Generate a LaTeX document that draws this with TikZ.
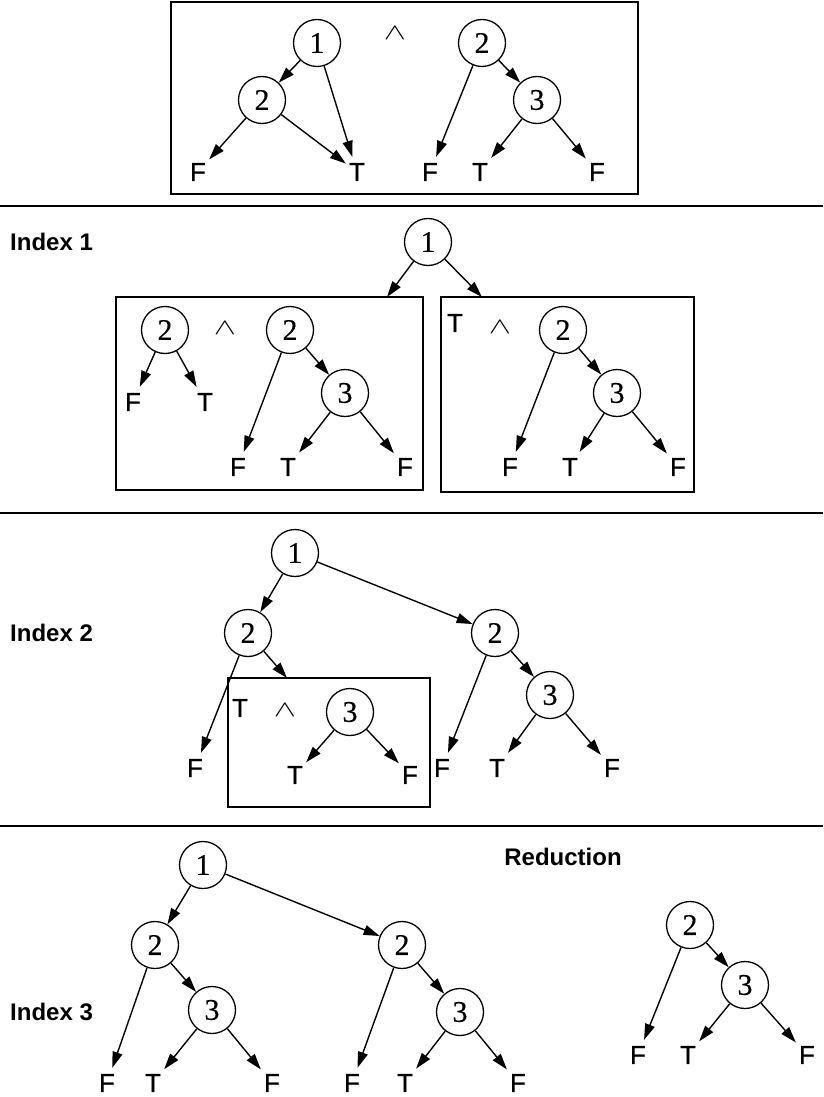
\documentclass[tikz,border=0pt]{standalone}
\usepackage{fontspec}
\setmainfont{Liberation Serif}
\setsansfont{Liberation Sans}
\newfontfamily\leaffnt[FakeBold=0.6]{Liberation Sans}
\newfontfamily\digfnt[FakeBold=0.4]{Liberation Serif}
\usetikzlibrary{arrows.meta}
\tikzset{
  bdd/.style={circle, draw, line width=1.3pt, minimum size=47pt, inner sep=0pt, font=\digfnt\fontsize{30}{32}\selectfont},
  leaf/.style={inner xsep=3pt, inner ysep=6pt, font=\leaffnt\fontsize{26}{28}\selectfont},
  txt/.style={inner sep=0pt, font=\leaffnt\fontsize{26}{28}\selectfont},
  andop/.style={inner sep=0pt, font=\fontsize{22}{24}\selectfont},
  lbl/.style={inner sep=0pt, font=\sffamily\bfseries\fontsize{24}{26}\selectfont},
  edge/.style={line width=1.4pt, -{Triangle[length=16pt,width=10pt]}},
  sep/.style={line width=1.4pt},
  thinbox/.style={draw, line width=1.4pt},
  thickbox/.style={draw, line width=2.6pt},
}
\newcommand{\andsym}{\scalebox{1.6}[1.1]{$\wedge$}}
\begin{document}
\begin{tikzpicture}[x=1pt,y=-1pt]
\useasboundingbox (0,0) rectangle (823,1097);
% ---------- Panel 1 ----------
\draw[thinbox, line width=1.7pt] (171,2) rectangle (638,194);
\node[bdd] (a1) at (317,43) {1};
\node[bdd] (a2) at (262,100) {2};
\node[leaf] (aF) at (198,172) {F};
\node[leaf] (aT) at (357,172) {T};
\node[andop] (op1) at (395,33) {\andsym};
\node[bdd] (b2) at (482,43) {2};
\node[bdd] (b3) at (537,100) {3};
\node[leaf] (bF1) at (430,172) {F};
\node[leaf] (bT) at (480,172) {T};
\node[leaf] (bF2) at (597,172) {F};
\draw[edge] (a1) -- (a2);
\draw[edge] (a1) -- (aT);
\draw[edge] (a2) -- (aF);
\draw[edge] (a2) -- (aT);
\draw[edge] (b2) -- (bF1);
\draw[edge] (b2) -- (b3);
\draw[edge] (b3) -- (bT);
\draw[edge] (b3) -- (bF2);
\coordinate (s1l) at (0,206); \coordinate (s1r) at (823,206);
\draw[sep] (s1l) -- (s1r);
% ---------- Panel 2 ----------
\node[lbl, anchor=west] (idx1) at (10,242) {Index 1};
\node[bdd] (c1) at (428,242) {1};
\draw[thickbox] (116,297) rectangle (423,490);
\draw[thickbox] (441,297) rectangle (694,492);
\coordinate (cL) at (387,297);
\coordinate (cR) at (482,297);
\draw[edge] (c1) -- (cL);
\draw[edge] (c1) -- (cR);
\node[bdd] (d2) at (165,330) {2};
\node[leaf] (dF) at (133,402) {F};
\node[leaf] (dT) at (205,402) {T};
\node[andop] (op2) at (225,328) {\andsym};
\node[bdd] (e2) at (290,330) {2};
\node[bdd] (e3) at (345,393) {3};
\node[leaf] (eF1) at (238,467) {F};
\node[leaf] (eT) at (288,467) {T};
\node[leaf] (eF2) at (405,467) {F};
\draw[edge] (d2) -- (dF);
\draw[edge] (d2) -- (dT);
\draw[edge] (e2) -- (eF1);
\draw[edge] (e2) -- (e3);
\draw[edge] (e3) -- (eT);
\draw[edge] (e3) -- (eF2);
\node[txt] (fTT) at (455,323) {T};
\node[andop] (op3) at (500,327) {\andsym};
\node[bdd] (f2) at (563,330) {2};
\node[bdd] (f3) at (617,393) {3};
\node[leaf] (fF1) at (510,467) {F};
\node[leaf] (fT) at (570,467) {T};
\node[leaf] (fF2) at (678,467) {F};
\draw[edge] (f2) -- (fF1);
\draw[edge] (f2) -- (f3);
\draw[edge] (f3) -- (fT);
\draw[edge] (f3) -- (fF2);
\coordinate (s2l) at (0,513); \coordinate (s2r) at (823,513);
\draw[sep] (s2l) -- (s2r);
% ---------- Panel 3 ----------
\node[lbl, anchor=west] (idx2) at (10,633) {Index 2};
\node[bdd] (g1) at (295,553) {1};
\node[bdd] (g2) at (248,633) {2};
\node[leaf] (gF) at (195,768) {F};
\draw[thinbox] (228,678) rectangle (430,807);
\coordinate (gB) at (287,678);
\node[txt] (hTT) at (240,708) {T};
\node[andop] (op4) at (285,710) {\andsym};
\node[bdd] (h3) at (350,712) {3};
\node[leaf] (hT) at (295,775) {T};
\node[leaf] (hF) at (410,775) {F};
\node[bdd] (i2) at (495,633) {2};
\node[bdd] (i3) at (550,695) {3};
\node[leaf] (iF1) at (442,768) {F};
\node[leaf] (iT) at (497,768) {T};
\node[leaf] (iF2) at (612,768) {F};
\draw[edge] (g1) -- (g2);
\draw[edge] (g1) -- (i2);
\draw[edge] (g2) -- (gF);
\draw[edge] (g2) -- (gB);
\draw[edge] (h3) -- (hT);
\draw[edge] (h3) -- (hF);
\draw[edge] (i2) -- (iF1);
\draw[edge] (i2) -- (i3);
\draw[edge] (i3) -- (iT);
\draw[edge] (i3) -- (iF2);
\coordinate (s3l) at (0,826); \coordinate (s3r) at (823,826);
\draw[sep] (s3l) -- (s3r);
% ---------- Panel 4 ----------
\node[lbl, anchor=west] (idx3) at (10,1012) {Index 3};
\node[lbl] (red) at (563,857) {Reduction};
\node[bdd] (j1) at (203,865) {1};
\node[bdd] (j2) at (155,945) {2};
\node[bdd] (j3) at (212,1010) {3};
\node[leaf] (jF1) at (107,1083) {F};
\node[leaf] (jT) at (153,1083) {T};
\node[leaf] (jF2) at (272,1083) {F};
\node[bdd] (k2) at (402,945) {2};
\node[bdd] (k3) at (460,1012) {3};
\node[leaf] (kF1) at (352,1083) {F};
\node[leaf] (kT) at (405,1083) {T};
\node[leaf] (kF2) at (518,1083) {F};
\draw[edge] (j1) -- (j2);
\draw[edge] (j1) -- (k2);
\draw[edge] (j2) -- (jF1);
\draw[edge] (j2) -- (j3);
\draw[edge] (j3) -- (jT);
\draw[edge] (j3) -- (jF2);
\draw[edge] (k2) -- (kF1);
\draw[edge] (k2) -- (k3);
\draw[edge] (k3) -- (kT);
\draw[edge] (k3) -- (kF2);
\node[bdd] (r2) at (690,925) {2};
\node[bdd] (r3) at (745,985) {3};
\node[leaf] (rF1) at (638,1055) {F};
\node[leaf] (rT) at (688,1055) {T};
\node[leaf] (rF2) at (807,1055) {F};
\draw[edge] (r2) -- (rF1);
\draw[edge] (r2) -- (r3);
\draw[edge] (r3) -- (rT);
\draw[edge] (r3) -- (rF2);
\end{tikzpicture}
\end{document}
